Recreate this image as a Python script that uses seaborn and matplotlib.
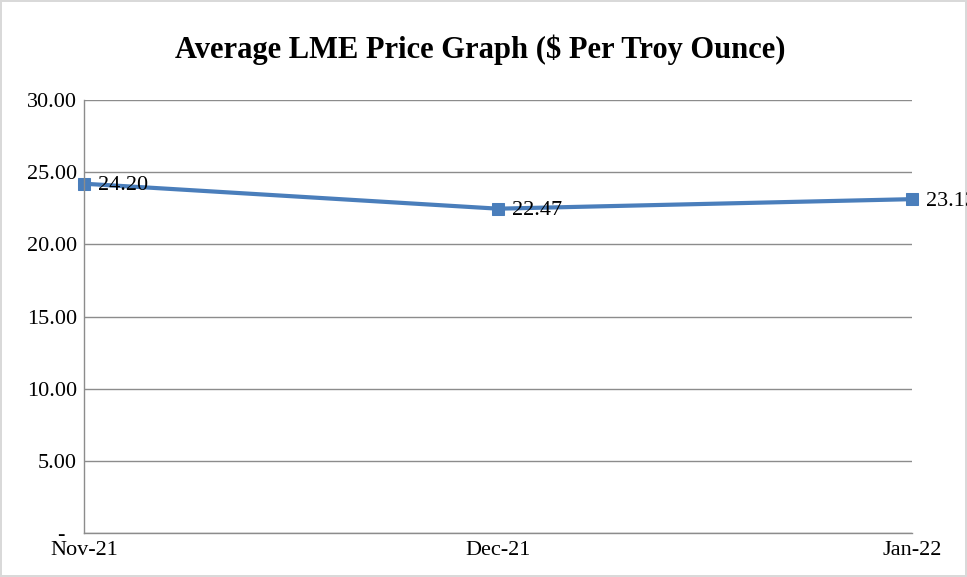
import numpy as np
import pandas as pd
import matplotlib
matplotlib.use("Agg")
import matplotlib.pyplot as plt
import seaborn as sns

months = ["Nov-21", "Dec-21", "Jan-22"]
prices = [24.20, 22.47, 23.13]
y_ticks = [0, 5, 10, 15, 20, 25, 30]
y_tick_labels = ["-  ", "5.00", "10.00", "15.00", "20.00", "25.00", "30.00"]

sns.set_style("white")
plt.rcParams["font.family"] = ["Liberation Serif", "DejaVu Serif"]
plt.rcParams["text.color"] = "black"
plt.rcParams["xtick.color"] = "black"
plt.rcParams["ytick.color"] = "black"

df = pd.DataFrame({"Month": months, "Price": prices, "pos": np.arange(len(months))})

fig = plt.figure(figsize=(9.67, 5.77), dpi=100)
fig.patch.set_edgecolor("#d9d9d9")
fig.patch.set_linewidth(1.5)
ax = fig.add_axes([84 / 967, 1 - 533 / 577, (912 - 84) / 967, (533 - 100) / 577])

line_color = "#4A7EBB"
sns.lineplot(data=df, x="pos", y="Price", ax=ax, color=line_color, linewidth=3,
             marker="s", markersize=8, markeredgecolor=line_color, clip_on=False)

for x, y in zip(df["pos"], df["Price"]):
    ax.annotate(f"{y:.2f}", (x, y), xytext=(10, -1.5), textcoords="offset points",
                ha="left", va="center", fontsize=16, color="black",
                annotation_clip=False)

ax.set_xlim(0, 2)
ax.set_ylim(0, 30)
ax.set_xticks(df["pos"])
ax.set_xticklabels(months, fontsize=16)
ax.set_yticks(y_ticks)
ax.set_yticklabels(y_tick_labels, fontsize=16)
ax.tick_params(axis="x", length=0, pad=6)
ax.tick_params(axis="y", length=0, pad=5)
ax.grid(axis="y", color="#8c8c8c", linewidth=1)
ax.set_axisbelow(True)
for s in ["top", "right"]:
    ax.spines[s].set_visible(False)
for s in ["left", "bottom"]:
    ax.spines[s].set_color("#8c8c8c")
    ax.spines[s].set_linewidth(1)
ax.set_xlabel("")
ax.set_ylabel("")

fig.text(0.497, 1 - 50 / 577, "Average LME Price Graph ($ Per Troy Ounce)",
         ha="center", va="center", fontsize=22, fontweight="bold", color="black")

fig.savefig("out.png", dpi=100)
